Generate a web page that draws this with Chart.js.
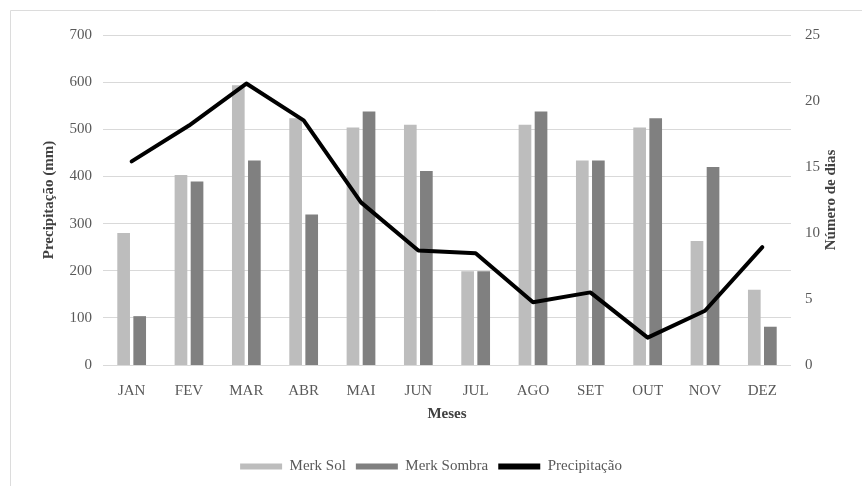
<!DOCTYPE html>
<html>
<head>
<meta charset="utf-8">
<script src="https://cdn.jsdelivr.net/npm/chart.js@4"></script>
<style>
  html, body { margin: 0; padding: 0; background: #fff; }
  #wrap { width: 862px; height: 486px; }
</style>
</head>
<body>
<div id="wrap"><canvas id="myChart" width="862" height="486"></canvas></div>
<script>
let meses = ['JAN', 'FEV', 'MAR', 'ABR', 'MAI', 'JUN', 'JUL', 'AGO', 'SET', 'OUT', 'NOV', 'DEZ'];
let merkSol = [10, 14.4, 21.2, 18.7, 18.0, 18.2, 7.1, 18.2, 15.5, 18.0, 9.4, 5.7];
let merkSombra = [3.7, 13.9, 15.5, 11.4, 19.2, 14.7, 7.1, 19.2, 15.5, 18.7, 15.0, 2.9];
let precipitacao = [432, 508, 597, 519, 345, 243, 237, 133, 154, 58, 115, 250];

let serif = "'Liberation Serif', 'Times New Roman', serif";
let tickColor = '#595959';
let titleColor = '#404040';

Chart.defaults.font.family = serif;
Chart.defaults.font.size = 15;

// white background, frame on left/top, and right axis title read bottom-to-top
let extras = {
  id: 'extras',
  beforeDraw(chart) {
    let c = chart.ctx;
    c.save();
    c.fillStyle = '#fff';
    c.fillRect(0, 0, chart.width, chart.height);
    c.strokeStyle = '#dcdcdc';
    c.lineWidth = 1;
    c.beginPath();
    c.moveTo(10.5, chart.height);
    c.lineTo(10.5, 10.5);
    c.lineTo(chart.width, 10.5);
    c.stroke();
    c.restore();
  },
  afterDraw(chart) {
    let c = chart.ctx;
    let area = chart.chartArea;
    c.save();
    c.translate(831, (area.top + area.bottom) / 2);
    c.rotate(-Math.PI / 2);
    c.font = 'bold 15px ' + serif;
    c.fillStyle = titleColor;
    c.textAlign = 'center';
    c.textBaseline = 'middle';
    c.fillText('Número de dias', 0, 0);
    c.restore();
  }
};

let ctx = document.getElementById('myChart').getContext('2d');
let myChart = new Chart(ctx, {
  type: 'bar',
  data: {
    labels: meses,
    datasets: [{
      label: 'Merk Sol',
      data: merkSol,
      backgroundColor: '#bdbdbd',
      yAxisID: 'y1',
      order: 1
    }, {
      label: 'Merk Sombra',
      data: merkSombra,
      backgroundColor: '#808080',
      yAxisID: 'y1',
      order: 1
    }, {
      type: 'line',
      label: 'Precipitação',
      data: precipitacao,
      borderColor: '#000',
      backgroundColor: '#000',
      borderWidth: 4,
      pointRadius: 0,
      tension: 0,
      borderJoinStyle: 'round',
      borderCapStyle: 'round',
      yAxisID: 'y',
      order: 0
    }]
  },
  options: {
    responsive: false,
    animation: false,
    layout: { padding: { left: 0, right: 0, top: 35, bottom: 2 } },
    datasets: {
      bar: { categoryPercentage: 0.56, barPercentage: 0.79 }
    },
    scales: {
      x: {
        grid: { display: false },
        border: { display: false },
        ticks: { color: tickColor, font: { family: serif, size: 15 }, padding: 9, maxRotation: 0 },
        title: { display: true, text: 'Meses', color: titleColor, font: { family: serif, size: 15, weight: 'bold' }, padding: { top: 4, bottom: 26 } },
        afterFit: (s) => { s.height = 84; }
      },
      y: {
        position: 'left',
        min: 0, max: 700,
        ticks: { stepSize: 100, color: tickColor, font: { family: serif, size: 15 }, padding: 11 },
        grid: { color: '#d9d9d9', drawTicks: false },
        border: { display: false },
        title: { display: true, text: 'Precipitação (mm)', color: titleColor, font: { family: serif, size: 15, weight: 'bold' }, padding: { top: 40, bottom: 0 } },
        afterFit: (s) => { s.width = 103; }
      },
      y1: {
        position: 'right',
        min: 0, max: 25,
        ticks: { stepSize: 5, color: tickColor, font: { family: serif, size: 15 }, padding: 14 },
        grid: { display: false, drawTicks: false },
        border: { display: false },
        afterFit: (s) => { s.width = 71; }
      }
    },
    plugins: {
      tooltip: { enabled: false },
      legend: {
        position: 'bottom',
        labels: {
          color: tickColor,
          font: { family: serif, size: 15 },
          boxWidth: 42,
          boxHeight: 6,
          padding: 10,
          sort: (a, b) => a.datasetIndex - b.datasetIndex,
          generateLabels: (chart) => {
            let items = Chart.defaults.plugins.legend.labels.generateLabels(chart);
            items.forEach((it) => { it.strokeStyle = 'rgba(0,0,0,0)'; it.lineWidth = 0.001; });
            return items;
          }
        }
      }
    }
  },
  plugins: [extras]
});
</script>
</body>
</html>
